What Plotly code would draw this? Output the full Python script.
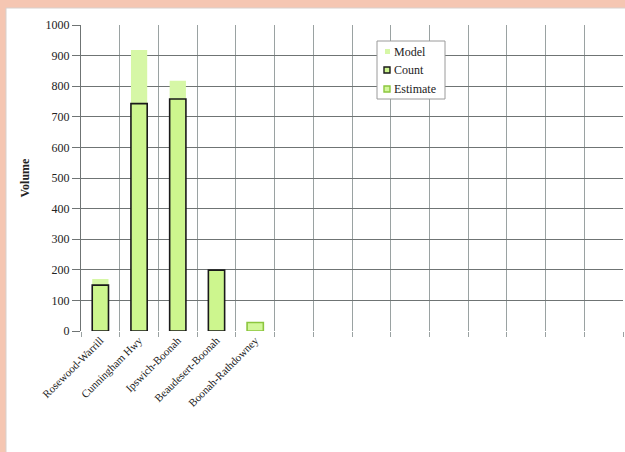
import plotly.graph_objects as go

categories = ["Rosewood-Warrill", "Cunningham Hwy", "Ipswich-Boonah", "Beaudesert-Boonah", "Boonah-Rathdowney"]
model = [170, 918, 818, None, None]
count = [150, 743, 758, 199, None]
estimate = [None, None, None, None, 28]
y_ticks = [0, 100, 200, 300, 400, 500, 600, 700, 800, 900, 1000]
legend_names = ["Model", "Count", "Estimate"]
n_slots = 14

FONT = "Liberation Serif, Times New Roman, serif"
x_pos = list(range(len(categories)))

# plot area in pixels (for placing the hand-drawn legend box)
L, T, W, H = 81, 25, 542, 306
def px(x):
    return (x - L) / W
def py(y):
    return 1 - (y - T) / H

fig = go.Figure()
fig.add_trace(go.Bar(name=legend_names[0], x=x_pos, y=model, width=0.42,
                     marker=dict(color="#d6f7a6", line=dict(width=0))))
fig.add_trace(go.Bar(name=legend_names[1], x=x_pos, y=count, width=0.42,
                     marker=dict(color="#cdf68e", line=dict(color="#1a1a1a", width=1.6))))
fig.add_trace(go.Bar(name=legend_names[2], x=x_pos, y=estimate, width=0.42,
                     marker=dict(color="#d2f79a", line=dict(color="#8cc63f", width=1.6))))

# white panel inside the peach frame
fig.add_shape(type="rect", xref="paper", yref="paper", x0=px(6), x1=px(640), y0=py(470), y1=py(8),
              fillcolor="white", line=dict(color="#d8d0cc", width=1), layer="below")

# legend box (Excel style)
fig.add_shape(type="rect", xref="paper", yref="paper", x0=px(377), x1=px(445), y0=py(99), y1=py(41),
              fillcolor="white", line=dict(color="#9a9a9a", width=1), layer="above")
# legend symbols
fig.add_shape(type="rect", xref="paper", yref="paper", x0=px(385), x1=px(390), y0=py(54), y1=py(49),
              fillcolor="#d6f7a6", line=dict(width=0), layer="above")
fig.add_shape(type="rect", xref="paper", yref="paper", x0=px(384), x1=px(390), y0=py(73), y1=py(67),
              fillcolor="#cdf68e", line=dict(color="#1a1a1a", width=1.4), layer="above")
fig.add_shape(type="rect", xref="paper", yref="paper", x0=px(384), x1=px(390), y0=py(92), y1=py(86),
              fillcolor="#d2f79a", line=dict(color="#8cc63f", width=1.4), layer="above")
for name, ycen in zip(legend_names, [51.5, 70, 89]):
    fig.add_annotation(xref="paper", yref="paper", x=px(392), y=py(ycen), text=name,
                       showarrow=False, xanchor="left", yanchor="middle",
                       font=dict(family=FONT, size=12, color="#222"))

fig.update_layout(
    width=625, height=452,
    margin=dict(l=L, r=625 - L - W, t=T, b=452 - T - H),
    paper_bgcolor="#f5c6b2",
    plot_bgcolor="white",
    barmode="overlay",
    font=dict(family=FONT, size=12, color="#222"),
    showlegend=False,
    xaxis=dict(range=[-0.5, n_slots - 0.5], tickvals=x_pos, ticktext=categories,
               showgrid=False, ticks="", tickangle=-45,
               tickfont=dict(family=FONT, size=11, color="#222"),
               minor=dict(tick0=0.5, dtick=1, showgrid=True, gridcolor="#9aa2a2", gridwidth=1,
                          ticks="outside", ticklen=5, tickcolor="#9aa2a2"),
               showline=False, zeroline=False),
    yaxis=dict(range=[0, 1000], tickvals=y_ticks, showgrid=True,
               gridcolor="#6f7474", gridwidth=1.2,
               ticks="outside", ticklen=8, tickcolor="#6f7474",
               tickfont=dict(family=FONT, size=12, color="#222"),
               title=dict(text="<b>Volume</b>", font=dict(family=FONT, size=12, color="#222"), standoff=13),
               showline=True, linecolor="#6f7474", zeroline=False),
)

fig.write_html("out.html", config={"displayModeBar": False},
               post_script="document.body.style.margin='0';document.body.style.overflow='hidden';")
